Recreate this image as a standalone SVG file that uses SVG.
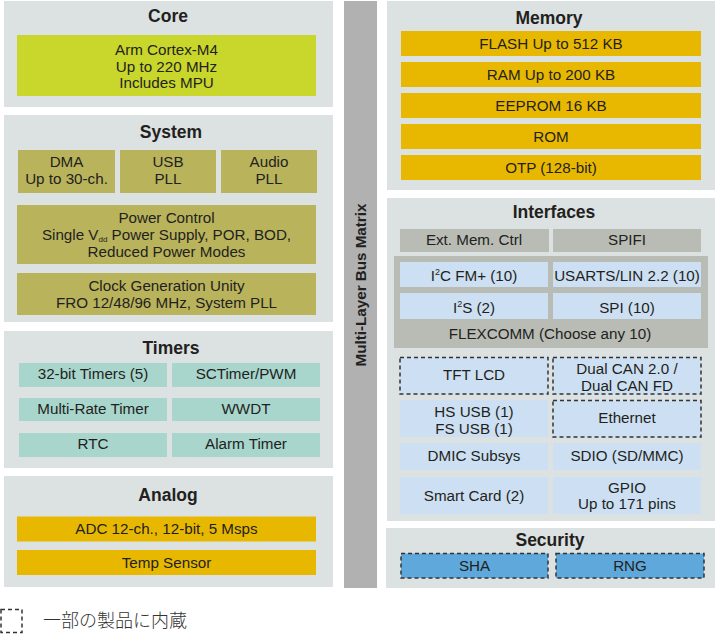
<svg xmlns="http://www.w3.org/2000/svg" width="717" height="635" viewBox="0 0 717 635">
<style>
.panel{fill:#dce1e1}
.title{font-family:"Liberation Sans",Arial,sans-serif;font-weight:bold;font-size:17.5px;fill:#231f20;text-anchor:middle}
.t{font-family:"Liberation Sans",Arial,sans-serif;font-size:15.2px;fill:#231f20;text-anchor:middle}
.core{fill:#c9d62b}
.sys{fill:#b9b35b}
.tim{fill:#a8d5cc}
.yel{fill:#e8b800}
.gry{fill:#b8bcb5}
.lb{fill:#cddff2}
.sec{fill:#5fa8dc}
.dash{stroke:#333;stroke-width:1.5;stroke-dasharray:4 3}
</style>
<rect width="717" height="635" fill="#fff"/>

<g id="bus">
<rect x="344" y="1" width="33" height="587" fill="#b1b1b1"/>
<text transform="translate(366,285) rotate(-90)" style="font-family:'Liberation Sans',Arial,sans-serif;font-weight:bold;font-size:15.2px;fill:#231f20;text-anchor:middle">Multi-Layer Bus Matrix</text>
</g>

<g id="core">
<rect class="panel" x="4" y="1" width="329" height="106"/>
<text class="title" x="168" y="22">Core</text>
<rect class="core" x="17" y="35" width="299" height="61"/>
<text class="t" x="166.5" y="55">Arm Cortex-M4</text>
<text class="t" x="166.5" y="71.5">Up to 220 MHz</text>
<text class="t" x="166.5" y="88">Includes MPU</text>
</g>

<g id="system">
<rect class="panel" x="4" y="115" width="329" height="207"/>
<text class="title" x="171" y="137.5">System</text>
<g id="dma"><rect class="sys" x="18" y="150" width="97" height="43"/>
<text class="t" x="66.5" y="166.5">DMA</text><text class="t" x="66.5" y="183.5">Up to 30-ch.</text></g>
<g id="usbpll"><rect class="sys" x="120" y="150" width="96" height="43"/>
<text class="t" x="168" y="166.5">USB</text><text class="t" x="168" y="183.5">PLL</text></g>
<g id="audiopll"><rect class="sys" x="221" y="150" width="96" height="43"/>
<text class="t" x="269" y="166.5">Audio</text><text class="t" x="269" y="183.5">PLL</text></g>
<g id="power"><rect class="sys" x="17" y="205" width="299" height="59"/>
<text class="t" x="166.5" y="222.5">Power Control</text>
<text class="t" x="166.5" y="239.5">Single V<tspan font-size="8" dy="2.5">dd</tspan><tspan dy="-2.5"> Power Supply, POR, BOD,</tspan></text>
<text class="t" x="166.5" y="256.5">Reduced Power Modes</text></g>
<g id="clock"><rect class="sys" x="17" y="273" width="299" height="42"/>
<text class="t" x="166.5" y="290.5">Clock Generation Unity</text>
<text class="t" x="166.5" y="307.5">FRO 12/48/96 MHz, System PLL</text></g>
</g>

<g id="timers">
<rect class="panel" x="4" y="331" width="329" height="137"/>
<text class="title" x="171" y="353.5">Timers</text>
<g id="t32"><rect class="tim" x="19" y="363" width="148" height="24"/><text class="t" x="93" y="378.5">32-bit Timers (5)</text></g>
<g id="sct"><rect class="tim" x="172" y="363" width="148" height="24"/><text class="t" x="246" y="378.5">SCTimer/PWM</text></g>
<g id="mrt"><rect class="tim" x="19" y="398" width="148" height="23"/><text class="t" x="93" y="413.5">Multi-Rate Timer</text></g>
<g id="wwdt"><rect class="tim" x="172" y="398" width="148" height="23"/><text class="t" x="246" y="413.5">WWDT</text></g>
<g id="rtc"><rect class="tim" x="19" y="433" width="148" height="24"/><text class="t" x="93" y="448.5">RTC</text></g>
<g id="alarm"><rect class="tim" x="172" y="433" width="148" height="24"/><text class="t" x="246" y="448.5">Alarm Timer</text></g>
</g>

<g id="analog">
<rect class="panel" x="4" y="476" width="329" height="111"/>
<text class="title" x="168" y="501">Analog</text>
<g id="adc"><rect class="yel" x="17" y="516.5" width="299" height="25"/><text class="t" x="166.5" y="533.5">ADC 12-ch., 12-bit, 5 Msps</text></g>
<g id="temp"><rect class="yel" x="17" y="550" width="299" height="25"/><text class="t" x="166.5" y="567.5">Temp Sensor</text></g>
</g>

<g id="memory">
<rect class="panel" x="387" y="1" width="328" height="189"/>
<text class="title" x="549" y="23.5">Memory</text>
<g id="flash"><rect class="yel" x="401" y="31" width="300" height="25"/><text class="t" x="551" y="49">FLASH Up to 512 KB</text></g>
<g id="ram"><rect class="yel" x="401" y="62" width="300" height="25"/><text class="t" x="551" y="80">RAM Up to 200 KB</text></g>
<g id="eeprom"><rect class="yel" x="401" y="93" width="300" height="25"/><text class="t" x="551" y="110.5">EEPROM 16 KB</text></g>
<g id="rom"><rect class="yel" x="401" y="124" width="300" height="25"/><text class="t" x="551" y="141.5">ROM</text></g>
<g id="otp"><rect class="yel" x="401" y="155" width="300" height="25"/><text class="t" x="551" y="172.5">OTP (128-bit)</text></g>
</g>

<g id="interfaces">
<rect class="panel" x="387" y="198" width="328" height="323"/>
<text class="title" x="554" y="218">Interfaces</text>
<g id="extmem"><rect class="gry" x="400" y="229" width="149" height="23"/><text class="t" x="474" y="245">Ext. Mem. Ctrl</text></g>
<g id="spifi"><rect class="gry" x="553" y="229" width="148" height="23"/><text class="t" x="627" y="245">SPIFI</text></g>
<g id="flexcomm"><rect class="gry" x="394" y="256" width="314" height="92"/>
<text class="t" x="550" y="338.5">FLEXCOMM (Choose any 10)</text></g>
<g id="i2c"><rect class="lb" x="400" y="262" width="148" height="25"/><text class="t" x="474" y="281">I<tspan font-size="9" dy="-6">2</tspan><tspan dy="6">C FM+ (10)</tspan></text></g>
<g id="usart"><rect class="lb" x="553" y="262" width="148" height="25"/><text class="t" x="627" y="281">USARTS/LIN 2.2 (10)</text></g>
<g id="i2s"><rect class="lb" x="400" y="293" width="148" height="26"/><text class="t" x="474" y="312.5">I<tspan font-size="9" dy="-6">2</tspan><tspan dy="6">S (2)</tspan></text></g>
<g id="spi"><rect class="lb" x="553" y="293" width="148" height="26"/><text class="t" x="627" y="312.5">SPI (10)</text></g>
<g id="tft"><rect class="lb dash" x="400" y="357.5" width="148" height="36.5"/><text class="t" x="474" y="380">TFT LCD</text></g>
<g id="can"><rect class="lb dash" x="553" y="357.5" width="148" height="36.5"/><text class="t" x="627" y="373.5">Dual CAN 2.0 /</text><text class="t" x="627" y="391">Dual CAN FD</text></g>
<g id="usb"><rect class="lb" x="400" y="400" width="148" height="37"/><text class="t" x="474" y="416.5">HS USB (1)</text><text class="t" x="474" y="433.5">FS USB (1)</text></g>
<g id="eth"><rect class="lb dash" x="553" y="400.5" width="148" height="36.5"/><text class="t" x="627" y="422.5">Ethernet</text></g>
<g id="dmic"><rect class="lb" x="400" y="443" width="148" height="27"/><text class="t" x="474" y="460.5">DMIC Subsys</text></g>
<g id="sdio"><rect class="lb" x="553" y="443" width="148" height="27"/><text class="t" x="627" y="460.5">SDIO (SD/MMC)</text></g>
<g id="smartcard"><rect class="lb" x="400" y="477" width="148" height="37"/><text class="t" x="474" y="500.5">Smart Card (2)</text></g>
<g id="gpio"><rect class="lb" x="553" y="477" width="148" height="37"/><text class="t" x="627" y="492.5">GPIO</text><text class="t" x="627" y="508.5">Up to 171 pins</text></g>
</g>

<g id="security">
<rect class="panel" x="386" y="528" width="329" height="60"/>
<text class="title" x="550" y="546">Security</text>
<g id="sha"><rect class="sec dash" x="401" y="553.5" width="147" height="24.5"/><text class="t" x="474.5" y="570.5">SHA</text></g>
<g id="rng"><rect class="sec dash" x="556" y="553.5" width="148" height="24.5"/><text class="t" x="630" y="570.5">RNG</text></g>
</g>

<g id="legend">
<rect x="1" y="609.5" width="21" height="23" fill="none" class="dash"/>
<text x="43" y="627" style="font-family:'Noto Sans CJK JP','Noto Sans',sans-serif;font-size:18px;font-weight:300;fill:#333">一部の製品に内蔵</text>
</g>

<g id="connectors"></g>
</svg>
